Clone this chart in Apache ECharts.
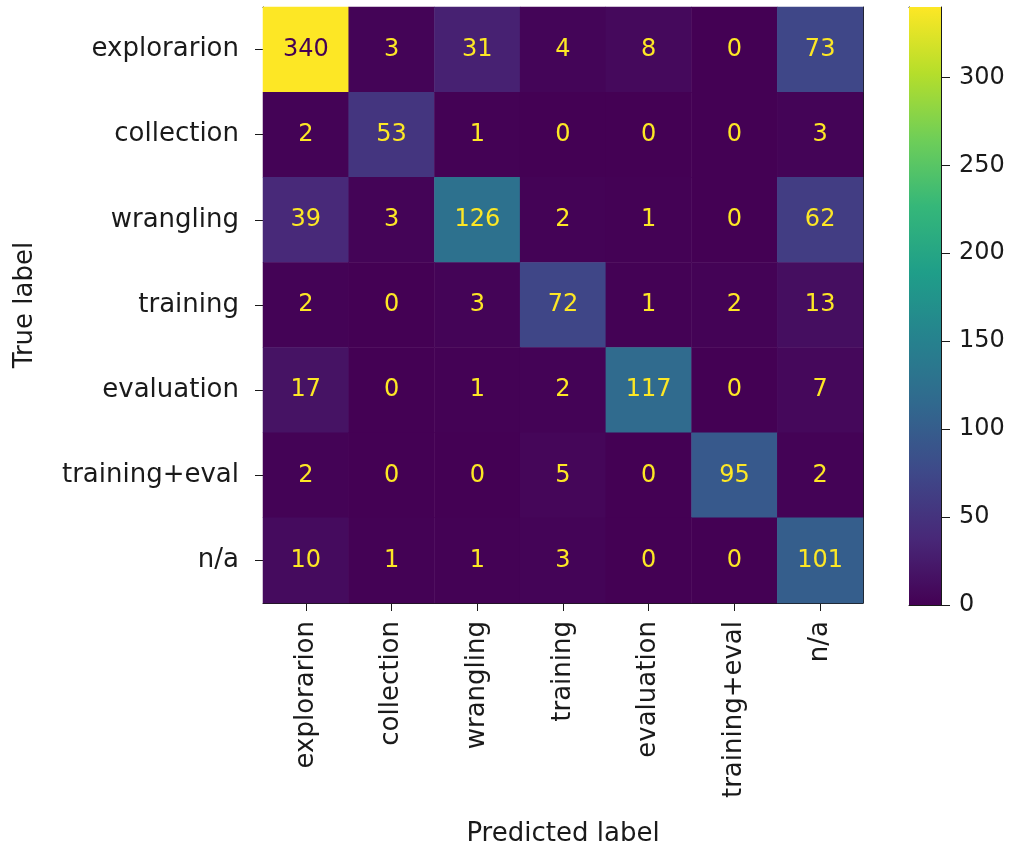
<!DOCTYPE html>
<html>
<head>
<meta charset="utf-8">
<script src="https://cdn.jsdelivr.net/npm/echarts@6/dist/echarts.min.js"></script>
<style>
  html, body { margin: 0; padding: 0; background: #fff; }
  #chart { width: 1012px; height: 852px; }
</style>
</head>
<body>
<div id="chart"></div>
<script>
// Class labels (rows = true label, columns = predicted label)
const labels = ['explorarion', 'collection', 'wrangling', 'training', 'evaluation', 'training+eval', 'n/a'];

// Confusion matrix rows, one per true label
const rowExplorarion = [340, 3, 31, 4, 8, 0, 73];
const rowCollection  = [2, 53, 1, 0, 0, 0, 3];
const rowWrangling   = [39, 3, 126, 2, 1, 0, 62];
const rowTraining    = [2, 0, 3, 72, 1, 2, 13];
const rowEvaluation  = [17, 0, 1, 2, 117, 0, 7];
const rowTrainEval   = [2, 0, 0, 5, 0, 95, 2];
const rowNA          = [10, 1, 1, 3, 0, 0, 101];

// Colorbar tick values
const colorbarTicks = [0, 50, 100, 150, 200, 250, 300];

const rows = [rowExplorarion, rowCollection, rowWrangling, rowTraining, rowEvaluation, rowTrainEval, rowNA];

// viridis colormap stops
const viridis = ['#440154', '#482878', '#3e4989', '#31688e', '#26828e',
                 '#1f9e89', '#35b779', '#6ece58', '#b5de2b', '#fde725'];

const allValues = rows.flat();
const vMin = Math.min(...allValues);
const vMax = Math.max(...allValues);
const threshold = (vMin + vMax) / 2;

const cells = [];
rows.forEach((row, yi) => {
  row.forEach((v, xi) => {
    cells.push({
      value: [xi, yi, v],
      label: { color: v > threshold ? viridis[0] : viridis[viridis.length - 1] }
    });
  });
});

const FONT = 'DejaVu Sans';
const INK = '#1a1a1a';
const textStyle = { fontFamily: FONT, fontSize: 26, color: INK };
const numStyle = { fontFamily: FONT, fontSize: 24, color: INK };

const frameAxisX = (gridIndex, position, data) => ({
  type: 'category', gridIndex, position, data,
  axisLine: { show: true, onZero: false, lineStyle: { color: INK, width: 1 } },
  axisTick: { show: false }, axisLabel: { show: false }, splitLine: { show: false }
});

const gradStops = viridis.map((c, i) => ({ offset: i / (viridis.length - 1), color: c }));

const chart = echarts.init(document.getElementById('chart'), null, { renderer: 'canvas' });
chart.setOption({
  animation: false,
  backgroundColor: '#fff',
  textStyle: { fontFamily: FONT },
  grid: [
    { left: 263, top: 7, width: 600, height: 598 },
    { left: 909, top: 7, width: 32, height: 598 }
  ],
  xAxis: [
    {
      type: 'category', gridIndex: 0, position: 'bottom', data: labels,
      name: 'Predicted label', nameLocation: 'middle', nameGap: 218,
      nameTextStyle: textStyle,
      axisLine: { show: true, onZero: false, lineStyle: { color: INK, width: 1 } },
      axisTick: { show: true, alignWithLabel: true, length: 8, lineStyle: { color: INK } },
      axisLabel: { rotate: 90, margin: 18, ...textStyle, interval: 0 },
      splitLine: { show: false }
    },
    frameAxisX(0, 'top', labels),
    frameAxisX(1, 'bottom', ['']),
    frameAxisX(1, 'top', [''])
  ],
  yAxis: [
    {
      type: 'category', gridIndex: 0, position: 'left', data: labels, inverse: true,
      name: 'True label', nameLocation: 'middle', nameGap: 225,
      nameTextStyle: textStyle,
      axisLine: { show: true, onZero: false, lineStyle: { color: INK, width: 1 } },
      axisTick: { show: true, alignWithLabel: true, length: 8, lineStyle: { color: INK } },
      axisLabel: { margin: 24, ...textStyle, interval: 0 },
      splitLine: { show: false }
    },
    {
      type: 'category', gridIndex: 0, position: 'right', data: labels, inverse: true,
      axisLine: { show: true, onZero: false, lineStyle: { color: INK, width: 1 } },
      axisTick: { show: false }, axisLabel: { show: false }, splitLine: { show: false }
    },
    {
      type: 'value', gridIndex: 1, position: 'right', min: 0, max: vMax, interval: 50,
      axisLine: { show: true, onZero: false, lineStyle: { color: INK, width: 1 } },
      axisTick: { show: true, length: 9, lineStyle: { color: INK }, customValues: colorbarTicks },
      axisLabel: { margin: 18, ...numStyle, customValues: colorbarTicks },
      splitLine: { show: false }
    },
    {
      type: 'value', gridIndex: 1, position: 'left', min: 0, max: vMax,
      axisLine: { show: true, onZero: false, lineStyle: { color: INK, width: 1 } },
      axisTick: { show: false }, axisLabel: { show: false }, splitLine: { show: false }
    }
  ],
  visualMap: {
    show: false, type: 'continuous', seriesIndex: 0,
    min: vMin, max: vMax, dimension: 2,
    inRange: { color: viridis }
  },
  series: [
    {
      type: 'heatmap', xAxisIndex: 0, yAxisIndex: 0,
      data: cells,
      label: { show: true, fontFamily: FONT, fontSize: 24 },
      itemStyle: { borderWidth: 0 },
      emphasis: { disabled: true }
    },
    {
      type: 'bar', xAxisIndex: 2, yAxisIndex: 2,
      data: [vMax], barWidth: '100%', silent: true,
      itemStyle: {
        color: new echarts.graphic.LinearGradient(0, 1, 0, 0, gradStops)
      }
    }
  ]
});
</script>
</body>
</html>
